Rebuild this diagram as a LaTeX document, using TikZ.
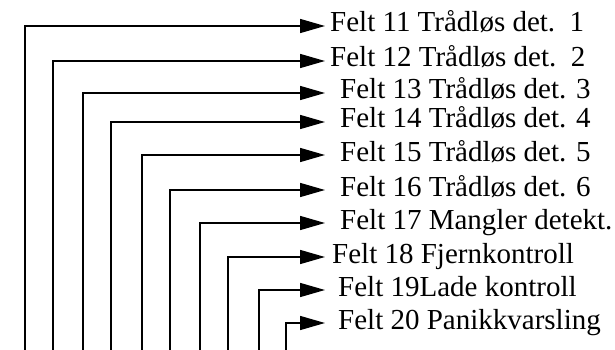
\documentclass[tikz,border=0pt]{standalone}
\usepackage{fontspec}
\setmainfont{Liberation Serif}
\usetikzlibrary{arrows.meta}
\begin{document}
\begin{tikzpicture}[x=1pt,y=-1pt,
  feed/.style={line width=1.5pt,-{Triangle[length=25pt,width=14pt]}},
  lbl/.style={anchor=base west,inner sep=0pt,font=\fontsize{29}{34}\selectfont}]
\useasboundingbox (0,0) rectangle (615,350);
\foreach \i/\x/\y in {1/25/26,2/53/61,3/83/93,4/111/122,5/142/155,6/170/190,7/200/223,8/228/257,9/259/290,10/286/323}{
  \coordinate (b\i) at (\x,352);
  \coordinate (t\i) at (325,\y);
}
\node[lbl] (l1) at (330,32) {Felt 11 Trådløs det.\ \ 1};
\node[lbl] (l2) at (330,67) {Felt 12 Trådløs det.\ \ 2};
\node[lbl] (l3) at (340,99) {Felt 13 Trådløs det. 3};
\node[lbl] (l4) at (340,128) {Felt 14 Trådløs det. 4};
\node[lbl] (l5) at (340,161) {Felt 15 Trådløs det. 5};
\node[lbl] (l6) at (340,196) {Felt 16 Trådløs det. 6};
\node[lbl] (l7) at (340,229) {Felt 17 Mangler detekt.};
\node[lbl] (l8) at (332,263) {Felt 18 Fjernkontroll};
\node[lbl] (l9) at (338,296) {Felt 19Lade kontroll};
\node[lbl] (l10) at (338,329) {Felt 20 Panikkvarsling};
\foreach \i in {1,...,10}{
  \draw[feed] (b\i) |- (t\i);
}
\end{tikzpicture}
\end{document}
